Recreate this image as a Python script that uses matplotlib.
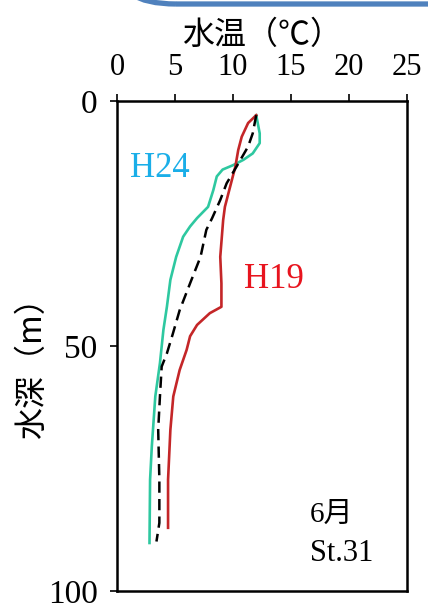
import matplotlib
matplotlib.use('Agg')
import matplotlib.pyplot as plt
from matplotlib.patches import FancyBboxPatch

# H24 profile (temperature, depth)
h24_t = [12.0, 12.3, 12.3, 11.7, 10.9, 10.0, 9.1, 8.6, 8.3, 7.85, 6.9, 6.3, 5.7, 5.1, 4.6, 4.3, 4.0, 3.7, 3.3, 3.0, 2.85, 2.8]
h24_d = [2.9, 6.6, 8.6, 10.7, 12.0, 13.1, 14.0, 15.4, 18.2, 21.6, 23.9, 25.6, 27.7, 31.8, 36.5, 42.0, 46.7, 53.5, 60.3, 70.5, 77.3, 90.2]
# H19 profile
h19_t = [12.0, 11.3, 10.75, 10.45, 10.2, 9.75, 9.3, 9.15, 8.9, 9.0, 9.0, 8.0, 6.9, 6.3, 6.0, 5.4, 4.85, 4.6, 4.4, 4.4]
h19_d = [2.9, 4.5, 7.3, 10.0, 13.4, 17.5, 21.6, 24.3, 31.8, 37.2, 42.0, 43.3, 45.7, 48.0, 50.8, 54.9, 60.3, 67.1, 77.3, 87.1]
# mean profile (dashed)
avg_t = [12.0, 11.7, 11.3, 10.3, 9.45, 8.9, 8.2, 7.7, 7.2, 6.3, 5.4, 4.8, 4.3, 3.85, 3.7, 3.55, 3.65, 3.65, 3.4]
avg_d = [2.9, 6.6, 9.3, 13.4, 16.8, 20.2, 23.9, 26.3, 31.8, 37.2, 42.7, 47.6, 51.5, 54.2, 60.3, 67.1, 77.3, 86.1, 89.9]

xticks = [0, 5, 10, 15, 20, 25]
yticks = [0, 50, 100]

SERIF = ['Liberation Serif', 'Noto Sans CJK JP']
CJK = ['Noto Sans CJK JP', 'Liberation Serif']

fig = plt.figure(figsize=(4.28, 6.04), dpi=100)
ax = fig.add_axes([0.2734, 0.0215, 0.6776, 0.8113])

ax.plot(h24_t, h24_d, color='#2ec8a0', lw=1.9)
ax.plot(h19_t, h19_d, color='#c42628', lw=1.9)
ax.plot(avg_t, avg_d, color='black', lw=1.8, ls=(0, (4.5, 2.5)))

ax.set_xlim(0, 25)
ax.set_ylim(100, 0)
ax.xaxis.tick_top()
ax.set_xticks(xticks)
ax.set_yticks(yticks)
ax.tick_params(direction='out', length=5, width=1.2, pad=9)
for lab in ax.get_xticklabels():
    lab.set_family(SERIF)
    lab.set_fontsize(22)
for lab in ax.get_yticklabels():
    lab.set_family(SERIF)
    lab.set_fontsize(24)
for s in ax.spines.values():
    s.set_linewidth(1.8)

ax.set_title('水温（℃）', family=CJK, fontsize=23, pad=41)
fig.text(0.075, 0.404, '水深（m）', family=CJK, fontsize=23, rotation=90, ha='center', va='center')

ax.text(3.7, 13.7, 'H24', color='#1aaee8', family=SERIF, fontsize=25, ha='center', va='center')
ax.text(13.5, 36.5, 'H19', color='#e8141e', family=SERIF, fontsize=25, ha='center', va='center')
ax.text(18.5, 84.5, '6月', family=SERIF, fontsize=21, ha='center', va='center')
ax.text(19.4, 92.4, 'St.31', family=SERIF, fontsize=22, ha='center', va='center')

# bit of the neighbouring panel border at the top
box = FancyBboxPatch((1.16, 6.00), 4.0, 1.0,
                     boxstyle='round,pad=0,rounding_size=0.6',
                     transform=fig.dpi_scale_trans, fill=False, ec='#4f81bd', lw=3.8, clip_on=False)
fig.patches.append(box)

fig.savefig('out.png', dpi=100)
